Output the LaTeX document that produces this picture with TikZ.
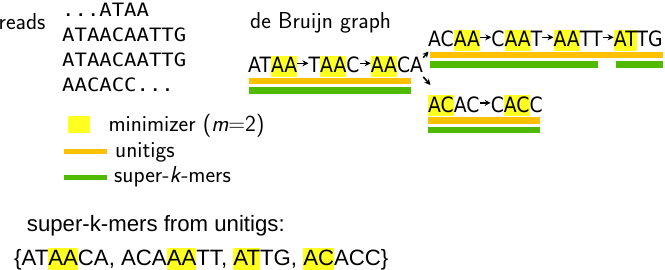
\documentclass[tikz,border=0pt]{standalone}
\usepackage{fontspec}
\usepackage{graphicx}
\usetikzlibrary{arrows.meta}
\newfontfamily\kmerfont{DejaVu Sans}
\newfontfamily\readfont{DejaVu Sans Mono}
\newfontfamily\arialfont{Liberation Sans}
\definecolor{hly}{RGB}{255,255,32}
\definecolor{uniorange}{RGB}{255,192,0}
\definecolor{skgreen}{RGB}{80,186,0}
\newcommand\hlt[1]{{\setlength{\fboxsep}{0pt}\colorbox{hly}{\vrule height .8em depth .19em width 0pt #1}}}
\newcommand\kx[1]{\scalebox{0.89}[1]{#1}}
\newcommand\rx[1]{\scalebox{1.12}[1]{#1}}
\tikzset{
  lmtext/.style={font=\sffamily\fontsize{23}{27}\selectfont, inner sep=0pt, anchor=base west},
  kmer/.style={font=\kmerfont\fontsize{21.1}{25}\selectfont, inner sep=0pt, anchor=base west},
  readtext/.style={font=\readfont\fontsize{18.4}{22}\selectfont, inner sep=0pt, anchor=base west},
  arialtext/.style={font=\arialfont\fontsize{22.2}{26}\selectfont, inner sep=0pt, anchor=base west},
  link/.style={-{Stealth[length=6pt,width=6pt]}, line width=1.5pt},
  unibar/.style={fill=uniorange},
  skbar/.style={fill=skgreen},
  mmbox/.style={fill=hly}
}
\begin{document}
\begin{tikzpicture}[x=1pt,y=-1pt]
\useasboundingbox (0,0) rectangle (665,270);

% reads
\node[lmtext] (readslbl) at (-1.5,30) {reads};
\node[readtext] (r1) at (62,16.2) {\rx{...ATAA}};
\node[readtext] (r2) at (62,41.6) {\rx{ATAACAATTG}};
\node[readtext] (r3) at (62,66.2) {\rx{ATAACAATTG}};
\node[readtext] (r4) at (62,91.5) {\rx{AACACC...}};

% de Bruijn graph
\node[lmtext] (dbglbl) at (250,28.5) {de Bruijn graph};

% main chain
\node[kmer] (k1) at (248,72.7) {\kx{AT\hlt{AA}}};
\node[kmer] (k2) at ([xshift=11pt]k1.base east) {\kx{T\hlt{AA}C}};
\node[kmer] (k3) at ([xshift=11pt]k2.base east) {\kx{\hlt{AA}CA}};
\draw[link] ([yshift=9.4pt]k1.base east) -- ([yshift=9.4pt]k2.base west);
\draw[link] ([yshift=9.4pt]k2.base east) -- ([yshift=9.4pt]k3.base west);

% upper branch
\node[kmer] (u1) at (428,46.7) {\kx{AC\hlt{AA}}};
\node[kmer] (u2) at ([xshift=11pt]u1.base east) {\kx{C\hlt{AA}T}};
\node[kmer] (u3) at ([xshift=11pt]u2.base east) {\kx{\hlt{AA}TT}};
\node[kmer] (u4) at ([xshift=11pt]u3.base east) {\kx{\hlt{AT}TG}};
\draw[link] ([yshift=9.4pt]u1.base east) -- ([yshift=9.4pt]u2.base west);
\draw[link] ([yshift=9.4pt]u2.base east) -- ([yshift=9.4pt]u3.base west);
\draw[link] ([yshift=9.4pt]u3.base east) -- ([yshift=9.4pt]u4.base west);

% lower branch
\node[kmer] (l1) at (428,112.3) {\kx{\hlt{AC}AC}};
\node[kmer] (l2) at ([xshift=11pt]l1.base east) {\kx{C\hlt{AC}C}};
\draw[link] ([yshift=9.4pt]l1.base east) -- ([yshift=9.4pt]l2.base west);

% branch arrows
\coordinate (upin) at (428.5,51.5);
\coordinate (lowin) at (430.5,85);
\draw[link] ([yshift=-2pt]k3.north east) -- (upin);
\draw[link] (k3.south east) -- (lowin);

% unitig and super-k-mer bars
\fill[unibar] (249.3,78) rectangle (410.7,84.5);
\fill[skbar] (249.3,87.3) rectangle (410.7,94);
\fill[unibar] (430,52.3) rectangle (663.3,58.3);
\fill[skbar] (430,61) rectangle (598.3,67.7);
\fill[skbar] (615.7,61) rectangle (663.3,67.7);
\fill[unibar] (428,117.3) rectangle (540,124);
\fill[skbar] (428,126.7) rectangle (540,133.3);

% legend
\fill[mmbox] (67.7,116) rectangle (90,133.3);
\node[lmtext] (lg1) at (108.3,131.7) {minimizer (\textit{m}=2)};
\fill[unibar] (64.3,149.3) rectangle (107.3,154);
\node[lmtext] (lg2) at (115,157.3) {unitigs};
\fill[skbar] (64.3,175) rectangle (107.3,180);
\node[lmtext] (lg3) at (114,182.7) {super-\textit{k}-mers};

% bottom
\node[arialtext] (sktitle) at (26.7,231.7) {super-k-mers from unitigs:};
\node[arialtext] (sklist) at (14,265.7) {\{AT\hlt{AA}CA, ACA\hlt{AA}TT, \hlt{AT}TG, \hlt{AC}ACC\}};
\end{tikzpicture}
\end{document}
